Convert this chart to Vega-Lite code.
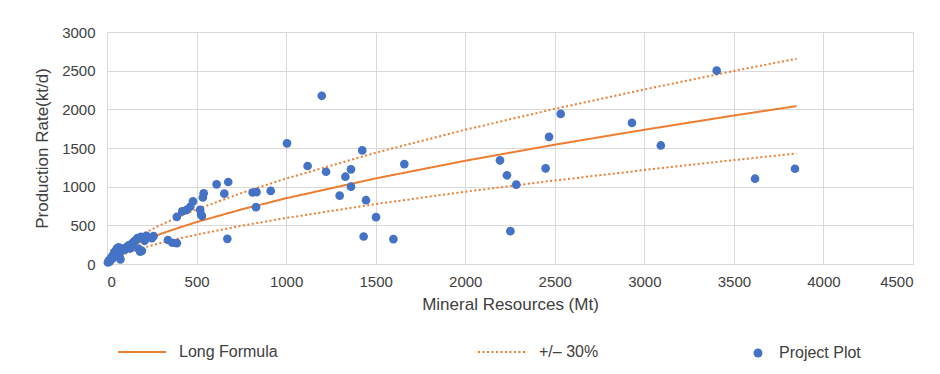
{
  "$schema": "https://vega.github.io/schema/vega-lite/v6.json",
  "width": 806,
  "height": 232,
  "autosize": {"type": "none"},
  "padding": {"left": 107, "top": 32, "right": 27, "bottom": 110},
  "background": "white",
  "config": {
    "font": "Liberation Sans",
    "view": {"stroke": null},
    "axis": {
      "labelColor": "#404040",
      "titleColor": "#404040",
      "labelFontSize": 15,
      "titleFontSize": 17,
      "titleFontWeight": "normal",
      "gridColor": "#d9d9d9",
      "gridWidth": 1,
      "ticks": false,
      "format": "d"
    },
    "legend": {"labelColor": "#404040", "labelFontSize": 16}
  },
  "datasets": {
    "curve": [
      {"Mt": 10, "rate": 43, "series": "Long Formula", "part": "mid"},
      {"Mt": 25, "rate": 77, "series": "Long Formula", "part": "mid"},
      {"Mt": 50, "rate": 121, "series": "Long Formula", "part": "mid"},
      {"Mt": 100, "rate": 190, "series": "Long Formula", "part": "mid"},
      {"Mt": 150, "rate": 248, "series": "Long Formula", "part": "mid"},
      {"Mt": 200, "rate": 299, "series": "Long Formula", "part": "mid"},
      {"Mt": 300, "rate": 389, "series": "Long Formula", "part": "mid"},
      {"Mt": 400, "rate": 468, "series": "Long Formula", "part": "mid"},
      {"Mt": 500, "rate": 542, "series": "Long Formula", "part": "mid"},
      {"Mt": 750, "rate": 705, "series": "Long Formula", "part": "mid"},
      {"Mt": 1000, "rate": 850, "series": "Long Formula", "part": "mid"},
      {"Mt": 1500, "rate": 1107, "series": "Long Formula", "part": "mid"},
      {"Mt": 2000, "rate": 1335, "series": "Long Formula", "part": "mid"},
      {"Mt": 2500, "rate": 1543, "series": "Long Formula", "part": "mid"},
      {"Mt": 3000, "rate": 1736, "series": "Long Formula", "part": "mid"},
      {"Mt": 3500, "rate": 1920, "series": "Long Formula", "part": "mid"},
      {"Mt": 3850, "rate": 2042, "series": "Long Formula", "part": "mid"},
      {"Mt": 10, "rate": 56, "series": "+/– 30%", "part": "upper"},
      {"Mt": 25, "rate": 100, "series": "+/– 30%", "part": "upper"},
      {"Mt": 50, "rate": 157, "series": "+/– 30%", "part": "upper"},
      {"Mt": 100, "rate": 247, "series": "+/– 30%", "part": "upper"},
      {"Mt": 150, "rate": 322, "series": "+/– 30%", "part": "upper"},
      {"Mt": 200, "rate": 389, "series": "+/– 30%", "part": "upper"},
      {"Mt": 300, "rate": 506, "series": "+/– 30%", "part": "upper"},
      {"Mt": 400, "rate": 608, "series": "+/– 30%", "part": "upper"},
      {"Mt": 500, "rate": 705, "series": "+/– 30%", "part": "upper"},
      {"Mt": 750, "rate": 917, "series": "+/– 30%", "part": "upper"},
      {"Mt": 1000, "rate": 1105, "series": "+/– 30%", "part": "upper"},
      {"Mt": 1500, "rate": 1439, "series": "+/– 30%", "part": "upper"},
      {"Mt": 2000, "rate": 1736, "series": "+/– 30%", "part": "upper"},
      {"Mt": 2500, "rate": 2006, "series": "+/– 30%", "part": "upper"},
      {"Mt": 3000, "rate": 2257, "series": "+/– 30%", "part": "upper"},
      {"Mt": 3500, "rate": 2496, "series": "+/– 30%", "part": "upper"},
      {"Mt": 3850, "rate": 2655, "series": "+/– 30%", "part": "upper"},
      {"Mt": 10, "rate": 30, "series": "+/– 30%", "part": "lower"},
      {"Mt": 25, "rate": 54, "series": "+/– 30%", "part": "lower"},
      {"Mt": 50, "rate": 85, "series": "+/– 30%", "part": "lower"},
      {"Mt": 100, "rate": 133, "series": "+/– 30%", "part": "lower"},
      {"Mt": 150, "rate": 174, "series": "+/– 30%", "part": "lower"},
      {"Mt": 200, "rate": 209, "series": "+/– 30%", "part": "lower"},
      {"Mt": 300, "rate": 272, "series": "+/– 30%", "part": "lower"},
      {"Mt": 400, "rate": 328, "series": "+/– 30%", "part": "lower"},
      {"Mt": 500, "rate": 379, "series": "+/– 30%", "part": "lower"},
      {"Mt": 750, "rate": 494, "series": "+/– 30%", "part": "lower"},
      {"Mt": 1000, "rate": 595, "series": "+/– 30%", "part": "lower"},
      {"Mt": 1500, "rate": 775, "series": "+/– 30%", "part": "lower"},
      {"Mt": 2000, "rate": 935, "series": "+/– 30%", "part": "lower"},
      {"Mt": 2500, "rate": 1080, "series": "+/– 30%", "part": "lower"},
      {"Mt": 3000, "rate": 1215, "series": "+/– 30%", "part": "lower"},
      {"Mt": 3500, "rate": 1344, "series": "+/– 30%", "part": "lower"},
      {"Mt": 3850, "rate": 1429, "series": "+/– 30%", "part": "lower"}
    ],
    "projects": [
      {"Mt": 5, "rate": 20}, {"Mt": 10, "rate": 45}, {"Mt": 15, "rate": 30}, {"Mt": 20, "rate": 60},
      {"Mt": 25, "rate": 90}, {"Mt": 30, "rate": 70}, {"Mt": 35, "rate": 120}, {"Mt": 40, "rate": 150},
      {"Mt": 45, "rate": 100}, {"Mt": 50, "rate": 175}, {"Mt": 55, "rate": 200}, {"Mt": 60, "rate": 130},
      {"Mt": 65, "rate": 215}, {"Mt": 70, "rate": 90}, {"Mt": 75, "rate": 60}, {"Mt": 80, "rate": 165},
      {"Mt": 90, "rate": 200}, {"Mt": 100, "rate": 185}, {"Mt": 110, "rate": 220}, {"Mt": 120, "rate": 240},
      {"Mt": 130, "rate": 200}, {"Mt": 140, "rate": 265}, {"Mt": 140, "rate": 250}, {"Mt": 150, "rate": 290},
      {"Mt": 160, "rate": 310}, {"Mt": 170, "rate": 335}, {"Mt": 175, "rate": 200}, {"Mt": 185, "rate": 160},
      {"Mt": 190, "rate": 350}, {"Mt": 195, "rate": 170}, {"Mt": 200, "rate": 340}, {"Mt": 210, "rate": 300},
      {"Mt": 220, "rate": 365}, {"Mt": 250, "rate": 335}, {"Mt": 260, "rate": 360},
      {"Mt": 340, "rate": 310}, {"Mt": 365, "rate": 275}, {"Mt": 390, "rate": 270}, {"Mt": 390, "rate": 610},
      {"Mt": 420, "rate": 680}, {"Mt": 445, "rate": 700}, {"Mt": 465, "rate": 740}, {"Mt": 480, "rate": 810},
      {"Mt": 520, "rate": 700}, {"Mt": 525, "rate": 640}, {"Mt": 530, "rate": 620}, {"Mt": 535, "rate": 860},
      {"Mt": 540, "rate": 915}, {"Mt": 612, "rate": 1030}, {"Mt": 655, "rate": 910}, {"Mt": 677, "rate": 1060},
      {"Mt": 672, "rate": 325}, {"Mt": 813, "rate": 925}, {"Mt": 835, "rate": 930}, {"Mt": 832, "rate": 735},
      {"Mt": 914, "rate": 945}, {"Mt": 1005, "rate": 1560},
      {"Mt": 1120, "rate": 1267}, {"Mt": 1199, "rate": 2175}, {"Mt": 1223, "rate": 1193}, {"Mt": 1299, "rate": 884},
      {"Mt": 1331, "rate": 1129}, {"Mt": 1362, "rate": 1224}, {"Mt": 1362, "rate": 1000}, {"Mt": 1425, "rate": 1469},
      {"Mt": 1433, "rate": 356}, {"Mt": 1446, "rate": 825}, {"Mt": 1502, "rate": 606}, {"Mt": 1599, "rate": 322},
      {"Mt": 1660, "rate": 1292}, {"Mt": 2194, "rate": 1340}, {"Mt": 2233, "rate": 1147}, {"Mt": 2252, "rate": 425},
      {"Mt": 2285, "rate": 1026}, {"Mt": 2449, "rate": 1237}, {"Mt": 2468, "rate": 1644}, {"Mt": 2533, "rate": 1941},
      {"Mt": 2931, "rate": 1825}, {"Mt": 3092, "rate": 1533}, {"Mt": 3404, "rate": 2500}, {"Mt": 3618, "rate": 1103},
      {"Mt": 3841, "rate": 1232}
    ]
  },
  "encoding": {
    "x": {
      "field": "Mt", "type": "quantitative",
      "scale": {"domain": [0, 4500], "nice": false},
      "axis": {
        "title": "Mineral Resources (Mt)",
        "values": [0, 500, 1000, 1500, 2000, 2500, 3000, 3500, 4000, 4500],
        "labelPadding": 10, "titlePadding": 7,
        "domainColor": "#d9d9d9"
      }
    },
    "y": {
      "field": "rate", "type": "quantitative",
      "scale": {"domain": [0, 3000], "nice": false},
      "axis": {
        "title": "Production Rate(kt/d)",
        "values": [0, 500, 1000, 1500, 2000, 2500, 3000],
        "labelPadding": 12, "titlePadding": 10,
        "domain": false
      }
    }
  },
  "layer": [
    {
      "data": {"name": "curve"},
      "mark": {"type": "line", "strokeWidth": 2},
      "encoding": {
        "detail": {"field": "part"},
        "strokeDash": {
          "field": "series", "type": "nominal", "legend": null,
          "scale": {"domain": ["Long Formula", "+/– 30%"], "range": [[1, 0], [2, 2.5]]}
        },
        "color": {
          "field": "series", "type": "nominal",
          "scale": {"domain": ["Long Formula", "+/– 30%"], "range": ["#ED7D31", "#ED7D31"]},
          "legend": {
            "title": null,
            "orient": "none",
            "direction": "horizontal",
            "legendX": 10,
            "legendY": 295,
            "columnPadding": 196,
            "symbolSize": 2304,
            "symbolStrokeWidth": 2,
            "labelOffset": 12,
            "encode": {
              "symbols": {
                "update": {
                  "shape": {"value": "stroke"},
                  "stroke": {"value": "#ED7D31"},
                  "strokeDash": {"signal": "datum.value === 'Long Formula' ? [1, 0] : [2, 2.5]"},
                  "strokeWidth": {"value": 2}
                }
              }
            }
          }
        }
      }
    },
    {
      "data": {"name": "projects"},
      "mark": {"type": "point", "filled": true, "size": 75, "opacity": 1, "color": "#4472C4"},
      "encoding": {
        "shape": {
          "datum": "Project Plot", "type": "nominal",
          "scale": {"domain": ["Project Plot"], "range": ["circle"]},
          "legend": {
            "title": null,
            "orient": "none",
            "legendX": 643,
            "legendY": 313,
            "symbolSize": 80,
            "symbolFillColor": "#4472C4",
            "symbolStrokeColor": "#4472C4",
            "symbolStrokeWidth": 0,
            "labelOffset": 13
          }
        }
      }
    }
  ]
}
